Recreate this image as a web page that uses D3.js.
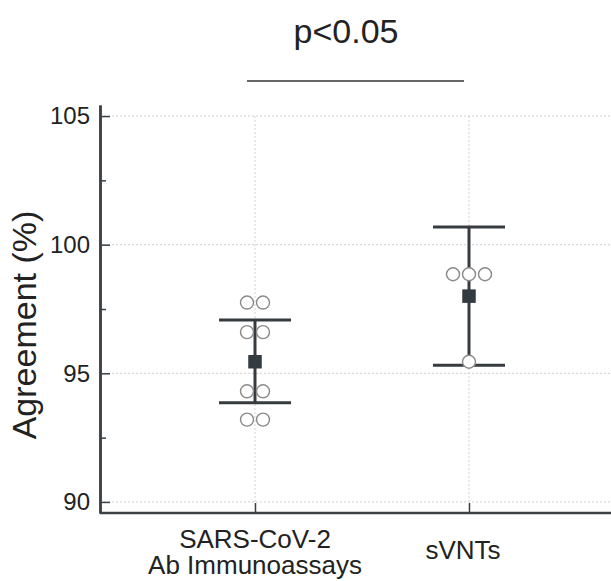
<!DOCTYPE html>
<html lang="en">
	<head>
		<meta charset="utf-8">
		<title>Agreement</title>
		<script type="text/javascript" src="https://cdn.jsdelivr.net/npm/d3@7"></script>
		<style type="text/css">
			body { margin: 0; background: #fff; }
			text { font-family: Arial, "Liberation Sans", sans-serif; fill: #222; }
		</style>
	</head>
	<body>
		<script type="text/javascript">

			//Width and height
			var w = 611;
			var h = 581;

			//Data
			var categories = ["ab", "svnt"];
			var categoryLabels = [["SARS-CoV-2", "Ab Immunoassays"], ["sVNTs"]];
			var pointsAb = [97.75, 97.75, 96.6, 96.6, 94.3, 94.3, 93.2, 93.2];
			var pointsSvnt = [98.85, 98.85, 98.85, 95.45];
			var means = [95.45, 98.0];
			var lower = [93.86, 95.31];
			var upper = [97.07, 100.69];
			var majorTicks = [90, 95, 100, 105];
			var minorTicks = [92.5, 97.5, 102.5];
			var pLabel = "p<0.05";

			var points = [pointsAb, pointsSvnt];

			//Scales
			var xScale = d3.scalePoint()
						   .domain(categories)
						   .range([255, 469]);

			var yScale = d3.scaleLinear()
						   .domain([89.57, 105.43])
						   .range([513, 105]);

			var left = 100, right = w;

			var svg = d3.select("body")
						.append("svg")
						.attr("width", w)
						.attr("height", h);

			//Grid lines
			svg.selectAll("line.hgrid")
			   .data(majorTicks)
			   .enter()
			   .append("line")
			   .attr("class", "hgrid")
			   .attr("x1", left)
			   .attr("x2", right)
			   .attr("y1", function(d) { return yScale(d); })
			   .attr("y2", function(d) { return yScale(d); })
			   .attr("stroke", "#cfcfcf")
			   .attr("stroke-width", 1)
			   .attr("stroke-dasharray", "2,2");

			svg.selectAll("line.vgrid")
			   .data(categories)
			   .enter()
			   .append("line")
			   .attr("class", "vgrid")
			   .attr("x1", function(d) { return xScale(d); })
			   .attr("x2", function(d) { return xScale(d); })
			   .attr("y1", yScale(105))
			   .attr("y2", yScale(89.57))
			   .attr("stroke", "#cfcfcf")
			   .attr("stroke-width", 1)
			   .attr("stroke-dasharray", "2,2");

			//Error bars
			var barColor = "#363b40";
			var cap = 36;

			categories.forEach(function(c, i) {
				var x = xScale(c);
				svg.append("line")
				   .attr("x1", x).attr("x2", x)
				   .attr("y1", yScale(lower[i])).attr("y2", yScale(upper[i]))
				   .attr("stroke", barColor).attr("stroke-width", 3);
				[lower[i], upper[i]].forEach(function(v) {
					svg.append("line")
					   .attr("x1", x - cap).attr("x2", x + cap)
					   .attr("y1", yScale(v)).attr("y2", yScale(v))
					   .attr("stroke", barColor).attr("stroke-width", 3);
				});
			});

			//Individual points, spread side by side when values repeat
			var spacing = 16;
			categories.forEach(function(c, i) {
				var counts = d3.rollup(points[i], function(v) { return v.length; }, function(d) { return d; });
				var seen = new Map();
				var placed = points[i].map(function(v) {
					var n = counts.get(v);
					var k = seen.get(v) || 0;
					seen.set(v, k + 1);
					return { value: v, offset: (k - (n - 1) / 2) * spacing };
				});
				svg.selectAll("circle.p" + i)
				   .data(placed)
				   .enter()
				   .append("circle")
				   .attr("class", "p" + i)
				   .attr("cx", function(d) { return xScale(c) + d.offset; })
				   .attr("cy", function(d) { return yScale(d.value); })
				   .attr("r", 6.5)
				   .attr("fill", "#fff")
				   .attr("stroke", "#8a8a8a")
				   .attr("stroke-width", 1.4);
			});

			//Means
			var sq = 13.5;
			svg.selectAll("rect.mean")
			   .data(means)
			   .enter()
			   .append("rect")
			   .attr("class", "mean")
			   .attr("x", function(d, i) { return xScale(categories[i]) - sq / 2; })
			   .attr("y", function(d) { return yScale(d) - sq / 2; })
			   .attr("width", sq)
			   .attr("height", sq)
			   .attr("fill", "#333a40");

			//Y axis
			var yAxis = d3.axisLeft(yScale)
						  .tickValues(majorTicks)
						  .tickSize(-10)
						  .tickPadding(10)
						  .tickSizeOuter(0);

			var gy = svg.append("g")
						.attr("transform", "translate(" + left + ",0)")
						.call(yAxis);

			var yMinor = d3.axisLeft(yScale)
						   .tickValues(minorTicks)
						   .tickSize(-6)
						   .tickFormat("")
						   .tickSizeOuter(0);

			var gym = svg.append("g")
						 .attr("transform", "translate(" + left + ",0)")
						 .call(yMinor);

			[gy, gym].forEach(function(g) {
				g.select(".domain").attr("stroke", "#3c4146").attr("stroke-width", 2.5);
				g.selectAll(".tick line").attr("stroke", "#3c4146").attr("stroke-width", 1.5);
			});
			gy.selectAll(".tick text")
			  .attr("font-size", "24px")
			  .attr("font-family", "Arial, 'Liberation Sans', sans-serif")
			  .attr("fill", "#222");

			//X axis
			var xAxis = d3.axisBottom(xScale)
						  .tickSize(-10)
						  .tickFormat("")
						  .tickSizeOuter(0);

			var gx = svg.append("g")
						.attr("transform", "translate(0," + 513 + ")")
						.call(xAxis);

			gx.select(".domain")
			  .attr("d", "M" + left + ",0H" + right)
			  .attr("stroke", "#3c4146")
			  .attr("stroke-width", 2.5);
			gx.selectAll(".tick line").attr("stroke", "#3c4146").attr("stroke-width", 1.5);

			//Category labels
			categories.forEach(function(c, i) {
				var lines = categoryLabels[i];
				var cx = xScale(c) - (lines.length === 1 ? 6 : 0);
				var t = svg.append("text")
						   .attr("text-anchor", "middle")
						   .attr("font-size", "26px")
						   .attr("x", cx)
						   .attr("y", lines.length === 1 ? 559 : 548);
				lines.forEach(function(l, j) {
					t.append("tspan")
					 .attr("x", cx)
					 .attr("dy", j === 0 ? 0 : 26)
					 .text(l);
				});
			});

			//Y label
			svg.append("text")
			   .attr("transform", "translate(36,325) rotate(-90)")
			   .attr("text-anchor", "middle")
			   .attr("font-size", "34px")
			   .text("Agreement (%)");

			//Significance bracket
			svg.append("line")
			   .attr("x1", xScale(categories[0]) - 8)
			   .attr("x2", xScale(categories[1]) - 5)
			   .attr("y1", 81).attr("y2", 81)
			   .attr("stroke", "#333")
			   .attr("stroke-width", 1.5);

			svg.append("text")
			   .attr("x", 346)
			   .attr("y", 43)
			   .attr("text-anchor", "middle")
			   .attr("font-size", "34px")
			   .text(pLabel);

		</script>
	</body>
</html>
